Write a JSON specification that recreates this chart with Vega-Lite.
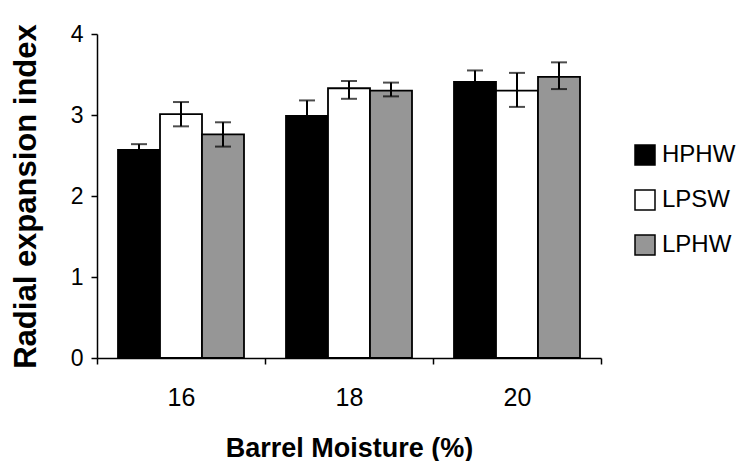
{
  "$schema": "https://vega.github.io/schema/vega-lite/v6.json",
  "autosize": "none",
  "width": 504,
  "height": 324,
  "padding": {"left": 97, "top": 34, "right": 139, "bottom": 103},
  "background": "white",
  "config": {
    "view": {"stroke": null},
    "font": "Liberation Sans",
    "axis": {"grid": false, "domainColor": "black", "tickColor": "black", "labelColor": "black", "titleColor": "black", "domainWidth": 1.5, "tickWidth": 1.5, "tickSize": 6, "titleFontWeight": "bold"},
    "axisX": {"labelFontSize": 25, "labelPadding": 21, "titleFontSize": 27, "titlePadding": 25, "labelAngle": 0, "tickBand": "extent"},
    "axisY": {"labelFontSize": 23, "labelPadding": 8, "titleFontSize": 31, "titlePadding": 28}
  },
  "data": {"values": [
    {"moisture": "16", "cultivar": "HPHW", "value": 2.57, "lo": 2.50, "hi": 2.64},
    {"moisture": "16", "cultivar": "LPSW", "value": 3.01, "lo": 2.86, "hi": 3.16},
    {"moisture": "16", "cultivar": "LPHW", "value": 2.76, "lo": 2.61, "hi": 2.91},
    {"moisture": "18", "cultivar": "HPHW", "value": 2.99, "lo": 2.80, "hi": 3.18},
    {"moisture": "18", "cultivar": "LPSW", "value": 3.33, "lo": 3.20, "hi": 3.42},
    {"moisture": "18", "cultivar": "LPHW", "value": 3.30, "lo": 3.23, "hi": 3.40},
    {"moisture": "20", "cultivar": "HPHW", "value": 3.41, "lo": 3.27, "hi": 3.55},
    {"moisture": "20", "cultivar": "LPSW", "value": 3.30, "lo": 3.10, "hi": 3.52},
    {"moisture": "20", "cultivar": "LPHW", "value": 3.47, "lo": 3.32, "hi": 3.65}
  ]},
  "encoding": {
    "x": {"field": "moisture", "type": "nominal", "sort": ["16", "18", "20"],
      "scale": {"paddingInner": 0, "paddingOuter": 0},
      "title": "Barrel Moisture (%)"},
    "xOffset": {"field": "cultivar", "type": "nominal", "sort": ["HPHW", "LPSW", "LPHW"],
      "scale": {"paddingInner": 0, "paddingOuter": 0.5}}
  },
  "layer": [
    {
      "mark": {"type": "bar", "stroke": "black", "strokeWidth": 1.8},
      "encoding": {
        "y": {"field": "value", "type": "quantitative", "scale": {"domain": [0, 4]},
          "title": "Radial expansion index",
          "axis": {"values": [0, 1, 2, 3, 4], "format": "d"}},
        "fill": {"field": "cultivar", "type": "nominal", "sort": ["HPHW", "LPSW", "LPHW"],
          "scale": {"domain": ["HPHW", "LPSW", "LPHW"], "range": ["#000000", "#ffffff", "#969696"]},
          "legend": {"title": null, "orient": "none", "legendX": 536, "legendY": 109, "padding": 0, "symbolType": "square", "symbolSize": 400, "symbolStrokeColor": "black", "symbolStrokeWidth": 1.5, "symbolOpacity": 1, "labelFontSize": 24, "labelOffset": 5, "rowPadding": 19, "labelColor": "black"}}
      }
    },
    {
      "mark": {"type": "rule", "strokeWidth": 2, "color": "black"},
      "encoding": {
        "y": {"field": "lo", "type": "quantitative", "title": "Radial expansion index", "axis": {"values": [0, 1, 2, 3, 4], "format": "d"}},
        "y2": {"field": "hi"}
      }
    },
    {
      "mark": {"type": "tick", "orient": "horizontal", "size": 16, "thickness": 2, "color": "black"},
      "encoding": {"y": {"field": "lo", "type": "quantitative", "title": "Radial expansion index", "axis": {"values": [0, 1, 2, 3, 4], "format": "d"}}}
    },
    {
      "mark": {"type": "tick", "orient": "horizontal", "size": 16, "thickness": 2, "color": "black"},
      "encoding": {"y": {"field": "hi", "type": "quantitative", "title": "Radial expansion index", "axis": {"values": [0, 1, 2, 3, 4], "format": "d"}}}
    }
  ]
}
